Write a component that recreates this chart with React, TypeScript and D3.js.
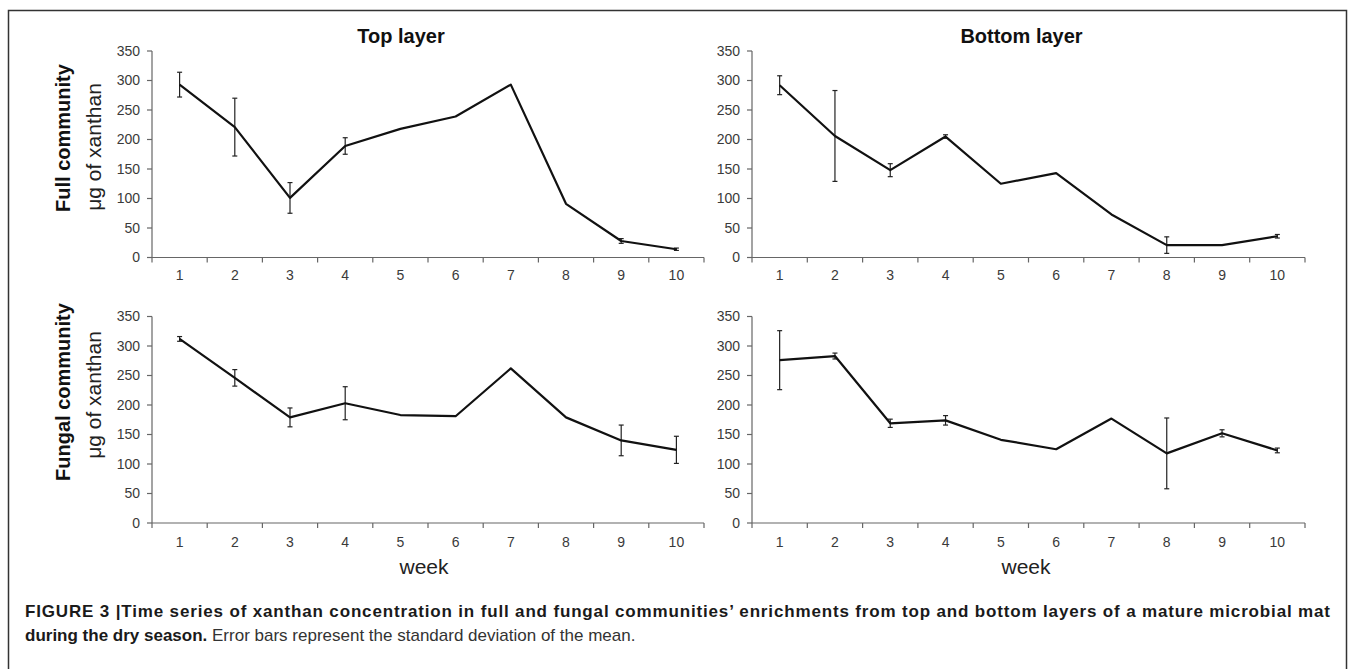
import React from "react";
import * as d3 from "d3";

const weeks = [1, 2, 3, 4, 5, 6, 7, 8, 9, 10];
const yTicks = [0, 50, 100, 150, 200, 250, 300, 350];

const topFullMean = [293, 221, 101, 189, 218, 239, 293, 91, 28, 14];
const topFullErr = [21, 49, 26, 14, 0, 0, 0, 0, 4, 2];
const bottomFullMean = [292, 206, 148, 205, 125, 143, 73, 21, 21, 36];
const bottomFullErr = [16, 77, 11, 3, 0, 0, 0, 14, 0, 3];
const topFungalMean = [312, 246, 179, 203, 183, 181, 262, 179, 140, 124];
const topFungalErr = [4, 14, 16, 28, 0, 0, 0, 0, 26, 23];
const bottomFungalMean = [276, 283, 169, 174, 141, 125, 177, 118, 152, 123];
const bottomFungalErr = [50, 5, 7, 8, 0, 0, 0, 60, 6, 4];

const columnTitles = ["Top layer", "Bottom layer"];
const rowTitles = ["Full community", "Fungal community"];
const unitLabel = "μg of xanthan";
const xLabel = "week";

const FONT = "'Liberation Sans', Arial, Helvetica, sans-serif";

type PanelProps = {
  mean: number[];
  err: number[];
  x0: number;
  x1: number;
  yBottom: number;
  yTop: number;
  labelY: number;
};

function Panel({ mean, err, x0, x1, yBottom, yTop, labelY }: PanelProps) {
  const x = d3.scaleBand<number>().domain(weeks).range([x0, x1]).padding(0);
  const y = d3.scaleLinear().domain([0, 350]).range([yBottom, yTop]);
  const cx = (w: number) => (x(w) as number) + x.bandwidth() / 2;
  const line = d3
    .line<number>()
    .x((_, i) => cx(weeks[i]))
    .y((d) => y(d));
  const boundaries = [...weeks.map((w) => x(w) as number), x1];
  const axisColor = "#666";
  return (
    <g>
      <line x1={x0} x2={x0} y1={y(0)} y2={y(350)} stroke={axisColor} strokeWidth={1.2} />
      {yTicks.map((t) => (
        <g key={t}>
          <line x1={x0 - 5} x2={x0} y1={y(t)} y2={y(t)} stroke={axisColor} strokeWidth={1.2} />
          <text
            x={x0 - 12}
            y={y(t)}
            dy="0.35em"
            textAnchor="end"
            fontSize={14}
            fill="#3a3a3a"
            fontFamily={FONT}
          >
            {t}
          </text>
        </g>
      ))}
      <line x1={x0} x2={x1} y1={y(0)} y2={y(0)} stroke={axisColor} strokeWidth={1.2} />
      {boundaries.map((b, i) => (
        <line key={i} x1={b} x2={b} y1={y(0)} y2={y(0) + 5} stroke={axisColor} strokeWidth={1.2} />
      ))}
      {weeks.map((w) => (
        <text
          key={w}
          x={cx(w)}
          y={labelY}
          textAnchor="middle"
          fontSize={14}
          fill="#3a3a3a"
          fontFamily={FONT}
        >
          {w}
        </text>
      ))}
      {weeks.map((w, i) =>
        err[i] > 0 ? (
          <g key={"e" + w} stroke="#222" strokeWidth={1.2}>
            <line x1={cx(w)} x2={cx(w)} y1={y(mean[i] - err[i])} y2={y(mean[i] + err[i])} />
            <line x1={cx(w) - 2.5} x2={cx(w) + 2.5} y1={y(mean[i] - err[i])} y2={y(mean[i] - err[i])} />
            <line x1={cx(w) - 2.5} x2={cx(w) + 2.5} y1={y(mean[i] + err[i])} y2={y(mean[i] + err[i])} />
          </g>
        ) : null
      )}
      <path d={line(mean) || ""} fill="none" stroke="#111" strokeWidth={2.2} strokeLinejoin="round" />
    </g>
  );
}

export default function App() {
  const left = { x0: 152, x1: 704 };
  const right = { x0: 752, x1: 1305 };
  const topRow = { yBottom: 257.5, yTop: 51, labelY: 280 };
  const botRow = { yBottom: 523, yTop: 316.5, labelY: 547 };
  return (
    <svg
      width={1352}
      height={669}
      style={{ position: "absolute", left: 0, top: 0, background: "#fff" }}
      fontFamily={FONT}
    >
      <rect x={8.5} y={10.5} width={1338} height={700} fill="none" stroke="#333" strokeWidth={1.5} />
      <text x={401} y={43} textAnchor="middle" fontSize={20} fontWeight="bold" fill="#111">
        {columnTitles[0]}
      </text>
      <text x={1021.5} y={43} textAnchor="middle" fontSize={20} fontWeight="bold" fill="#111">
        {columnTitles[1]}
      </text>

      <text transform="translate(70,138) rotate(-90)" textAnchor="middle" fontSize={20} fontWeight="bold" fill="#111">
        {rowTitles[0]}
      </text>
      <text transform="translate(101,147) rotate(-90)" textAnchor="middle" fontSize={21} fill="#222">
        {unitLabel}
      </text>
      <text transform="translate(70,392) rotate(-90)" textAnchor="middle" fontSize={20} fontWeight="bold" fill="#111">
        {rowTitles[1]}
      </text>
      <text transform="translate(101,395) rotate(-90)" textAnchor="middle" fontSize={21} fill="#222">
        {unitLabel}
      </text>

      <Panel mean={topFullMean} err={topFullErr} {...left} {...topRow} />
      <Panel mean={bottomFullMean} err={bottomFullErr} {...right} {...topRow} />
      <Panel mean={topFungalMean} err={topFungalErr} {...left} {...botRow} />
      <Panel mean={bottomFungalMean} err={bottomFungalErr} {...right} {...botRow} />

      <text x={424} y={574} textAnchor="middle" fontSize={21} fill="#222">
        {xLabel}
      </text>
      <text x={1026} y={574} textAnchor="middle" fontSize={21} fill="#222">
        {xLabel}
      </text>

      <text
        x={25}
        y={617}
        fontSize={17}
        fontWeight="bold"
        fill="#1a1a1a"
        textLength={1305}
        lengthAdjust="spacing"
      >
        FIGURE 3 |Time series of xanthan concentration in full and fungal communities’ enrichments from top and bottom layers of a mature microbial mat
      </text>
      <text x={25} y={641} fontSize={17} fill="#333">
        <tspan fontWeight="bold" fill="#1a1a1a">during the dry season.</tspan> Error bars represent the standard deviation of the mean.
      </text>
    </svg>
  );
}
